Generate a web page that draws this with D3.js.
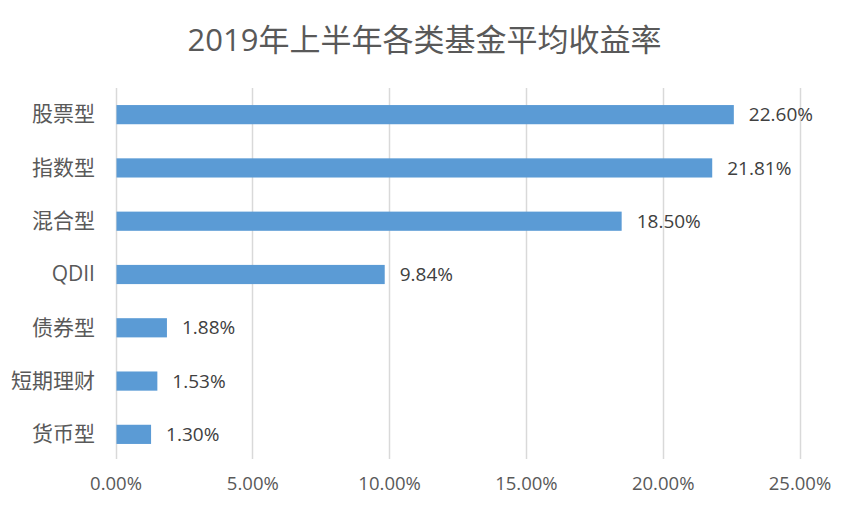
<!DOCTYPE html>
<html><head><meta charset="utf-8">
<script src="https://cdn.jsdelivr.net/npm/d3@7"></script>
<style>body{margin:0;background:#fff}svg{display:block}</style>
</head><body>
<script>
const title = "2019年上半年各类基金平均收益率";
const categories = ["股票型","指数型","混合型","QDII","债券型","短期理财","货币型"];
const values = [22.60, 21.81, 18.50, 9.84, 1.88, 1.53, 1.30];
const tickValues = [0, 5, 10, 15, 20, 25];

const W = 849, H = 507;
const svg = d3.select("body").append("svg").attr("width", W).attr("height", H);
svg.append("rect").attr("width", W).attr("height", H).attr("fill", "#fff");

const x = d3.scaleLinear().domain([0, 25]).range([115.5, 799.5]);
const y = d3.scaleBand().domain(categories).range([88, 461]).paddingInner(0.64).paddingOuter(0.32);

svg.append("text").attr("x", 424.5).attr("y", 51).attr("text-anchor", "middle")
  .attr("font-family", "'Open Sans','Noto Sans CJK SC',sans-serif").attr("font-size", 31)
  .attr("fill", "#595959").text(title);

// gridlines
svg.append("g").selectAll("line").data(tickValues).join("line")
  .attr("x1", d => Math.round(x(d)) + 0.5).attr("x2", d => Math.round(x(d)) + 0.5)
  .attr("y1", 88).attr("y2", 459)
  .attr("stroke", "#d9d9d9").attr("stroke-width", 1.5);

// x axis labels
const xAxis = d3.axisBottom(x).tickValues(tickValues).tickSize(0).tickFormat(d => d.toFixed(2) + "%");
const gx = svg.append("g").attr("transform", "translate(0,474)").call(xAxis);
gx.select(".domain").remove();
gx.selectAll("text").attr("font-family", "'Open Sans',sans-serif").attr("font-size", 18.5).attr("fill", "#595959");

// y axis labels
const yAxis = d3.axisLeft(y).tickSize(0).tickPadding(0);
const gy = svg.append("g").attr("transform", "translate(95,0)").call(yAxis);
gy.select(".domain").remove();
gy.selectAll("text").attr("font-family", "'Open Sans','Noto Sans CJK SC',sans-serif").attr("font-size", 21).attr("fill", "#595959");

// bars
svg.append("g").selectAll("rect").data(values).join("rect")
  .attr("x", x(0) + 1).attr("y", (d, i) => y(categories[i]))
  .attr("width", d => x(d) - x(0) - 1).attr("height", y.bandwidth())
  .attr("fill", "#5b9bd5");

// value labels
svg.append("g").selectAll("text").data(values).join("text")
  .attr("x", d => x(d) + 15).attr("y", (d, i) => y(categories[i]) + y.bandwidth() / 2)
  .attr("dy", "0.35em")
  .attr("font-family", "'Open Sans',sans-serif").attr("font-size", 19).attr("fill", "#404040")
  .text(d => d.toFixed(2) + "%");
</script>
</body></html>
